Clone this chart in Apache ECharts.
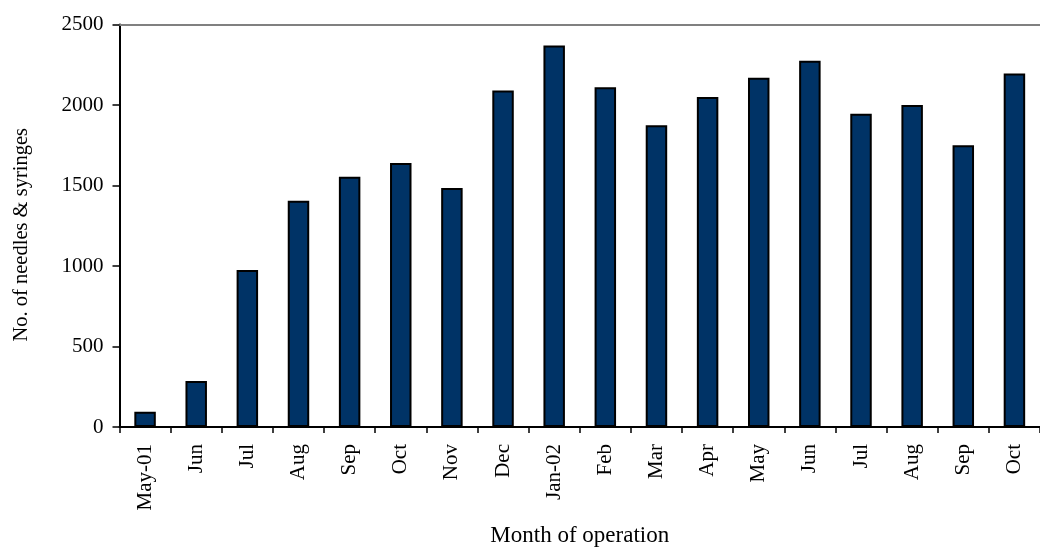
<!DOCTYPE html>
<html>
<head>
<meta charset="utf-8">
<script src="https://cdn.jsdelivr.net/npm/echarts@6/dist/echarts.min.js"></script>
<style>html,body{margin:0;padding:0;background:#fff}#c{width:1040px;height:552px}</style>
</head>
<body>
<div id="c"></div>
<script>
const categories = ["May-01","Jun","Jul","Aug","Sep","Oct","Nov","Dec","Jan-02","Feb","Mar","Apr","May","Jun","Jul","Aug","Sep","Oct"];
const needles = [95,285,975,1405,1555,1640,1485,2090,2370,2110,1875,2050,2170,2275,1945,2000,1750,2195];
const yTicks = {min:0, max:2500, interval:500};
const FONT = "Liberation Serif";
const chart = echarts.init(document.getElementById('c'), null, {renderer:'canvas'});
chart.setOption({
  animation:false,
  backgroundColor:'#ffffff',
  grid:{left:119.5, top:24.5, width:930, height:407, containLabel:false},
  xAxis:[{
    type:'category', data:categories, position:'bottom',
    axisLine:{show:true, lineStyle:{color:'#000', width:2}},
    axisTick:{show:true, inside:false, length:6, lineStyle:{color:'#000', width:1.5}},
    axisLabel:{rotate:90, margin:17, color:'#000', fontFamily:FONT, fontSize:21, interval:0},
    name:'Month of operation', nameLocation:'middle', nameGap:97,
    nameTextStyle:{color:'#000', fontFamily:FONT, fontSize:23}
  },{
    type:'category', data:categories, position:'top',
    axisLine:{show:true, lineStyle:{color:'#808080', width:2}},
    axisTick:{show:false}, axisLabel:{show:false}
  }],
  yAxis:{
    type:'value', min:yTicks.min, max:yTicks.max, interval:yTicks.interval,
    axisLine:{show:true, lineStyle:{color:'#000', width:2}},
    axisTick:{show:true, inside:false, length:7, lineStyle:{color:'#000', width:1.5}},
    splitLine:{show:false},
    axisLabel:{color:'#000', fontFamily:FONT, fontSize:21, margin:16, formatter:function(v){return String(v);}},
    name:'No. of needles & syringes', nameLocation:'middle', nameGap:87,
    nameTextStyle:{color:'#000', fontFamily:FONT, fontSize:20.5, padding:[0,18,0,0]}
  },
  series:[{
    type:'bar', data:needles, barWidth:'42%',
    itemStyle:{color:'#003366', borderColor:'#000', borderWidth:2}
  }]
});
</script>
</body>
</html>
